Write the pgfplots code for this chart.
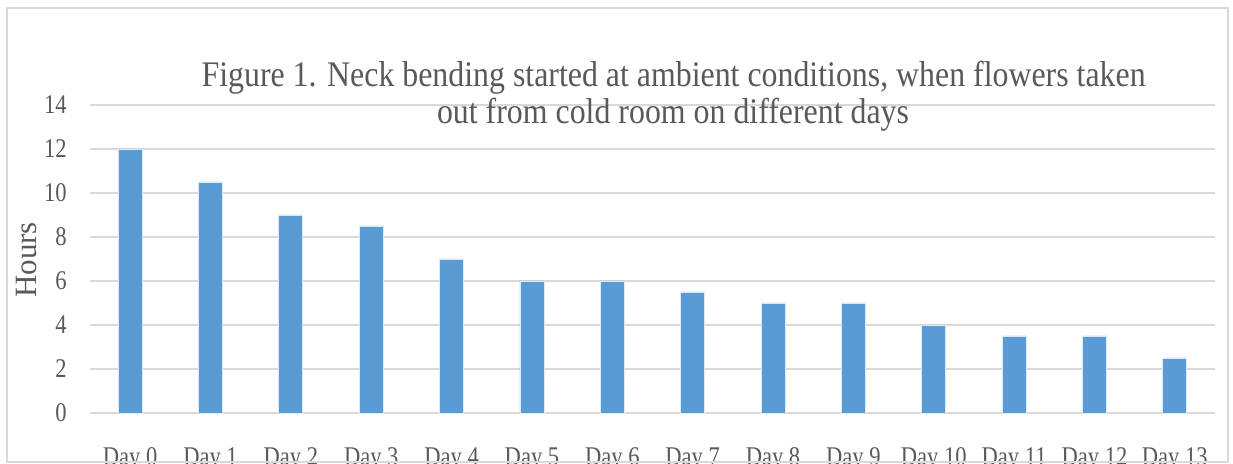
\documentclass[border=0pt]{standalone}
\usepackage{pgfplots}
\pgfplotsset{compat=1.18}
\usepackage{fontspec}
\setmainfont{Liberation Serif}[FakeStretch=0.835]
\newfontfamily\titlefont{Liberation Serif}[FakeStretch=0.885]
\newfontfamily\hoursfont{Liberation Serif}
\definecolor{barblue}{HTML}{5B9BD5}
\definecolor{txtgray}{HTML}{595959}
\definecolor{gridgray}{HTML}{D9D9D9}
\begin{document}
\begin{tikzpicture}
\begin{axis}[
  at={(45pt,25.5pt)}, anchor=south west,
  scale only axis, width=562.5pt, height=154pt,
  ybar, bar width=12pt,
  xmin=-0.5, xmax=13.5, ymin=0, ymax=14,
  xtick={0,...,13},
  xticklabels={Day 0,Day 1,Day 2,Day 3,Day 4,Day 5,Day 6,Day 7,Day 8,Day 9,Day 10,Day 11,Day 12,Day 13},
  ytick={0,2,...,14},
  major tick length=0pt,
  axis line style={draw=none},
  ymajorgrids, grid style={gridgray, line width=0.8pt},
  /pgf/number format/assume math mode=true,
  yticklabel style={anchor=east, inner sep=0pt, xshift=-11.5pt, font=\fontsize{13.5}{15}\selectfont, text=txtgray},
  xticklabel style={anchor=north, inner sep=0pt, yshift=-17pt, font=\fontsize{13.5}{15}\selectfont, text=txtgray},
  clip=false,
]
\addplot[fill=barblue, draw=white!80!barblue, line width=0.4pt] coordinates {
 (0,12) (1,10.5) (2,9) (3,8.5) (4,7) (5,6) (6,6) (7,5.5) (8,5) (9,5) (10,4) (11,3.5) (12,3.5) (13,2.5)};
\end{axis}
\node[anchor=base, inner sep=0pt, text=txtgray, font=\titlefont\fontsize{18}{20}\selectfont] at (336.8pt,188.5pt) {Figure 1. Neck bending started at ambient conditions, when flowers taken};
\node[anchor=base, inner sep=0pt, text=txtgray, font=\titlefont\fontsize{18}{20}\selectfont] at (336.5pt,170pt) {out from cold room on different days};
\node[rotate=90, inner sep=0pt, text=txtgray, font=\hoursfont\fontsize{15.5}{18}\selectfont] at (13.5pt,102pt) {Hours};
\draw[gridgray, line width=1pt] (3.5pt,1pt) rectangle (614pt,228pt);
\pgfresetboundingbox
\useasboundingbox (0,0) rectangle (616.5pt,232pt);
\end{tikzpicture}
\end{document}
